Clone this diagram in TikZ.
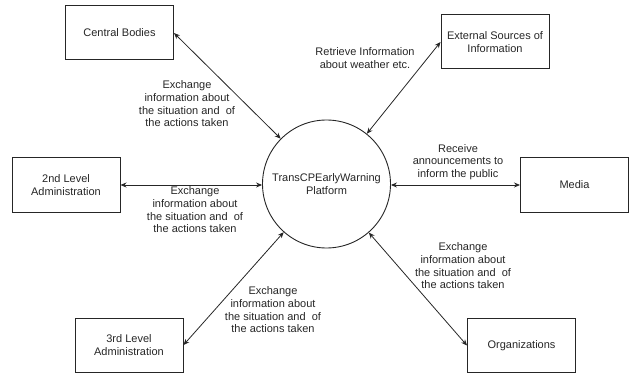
\documentclass[tikz,border=0pt]{standalone}
\usepackage{fontspec}
\setmainfont{Liberation Sans}
\usetikzlibrary{arrows.meta}

\begin{document}
\begin{tikzpicture}[
          % Environment Config
          x=1pt, y=-1pt,
          font=\fontsize{11}{12.7}\selectfont,
          color=black!85,
          Entity/.style={% Style for the outer boxes
            draw,
            line width=1pt,
            minimum width=108pt,
            minimum height=54pt,
            align=center,
            inner sep=2pt
          },
          Platform/.style={% Style for the central circle
            draw,
            circle,
            line width=0.9pt,
            minimum size=128pt,
            align=center,
            inner sep=0pt
          },
          Flow/.style={% Style for the two-way flows
            {Stealth[length=6pt,width=5pt]}-{Stealth[length=6pt,width=5pt]},
            line width=0.8pt
          },
          FlowText/.style={% Style for the flow labels
            align=center,
            inner sep=0pt
          }
        ]

        % Fix the canvas
        \useasboundingbox (0,0) rectangle (631,374);

        % Put the platform in position
        \node[Platform] (TCP) at (326.5,184) {TransCPEarlyWarning\\Platform};

        % Put the outer entities
        \node[Entity] (CB) at (119.5,33) {Central Bodies};
        \node[Entity] (ESI) at (495,42) {External Sources of\\Information};
        \node[Entity] (ADM2) at (66,185) {2nd Level\\Administration};
        \node[Entity] (MED) at (574.5,185) {Media};
        \node[Entity] (ADM3) at (129,345) {3rd Level\\Administration};
        \node[Entity] (ORG) at (521.5,345.5) {Organizations};

        % Draw the flows
        \draw[Flow] (CB.east) -- (TCP);
        \draw[Flow] (ESI.west) -- (TCP);
        \draw[Flow] (ADM2.east) -- (ADM2.east -| TCP.west);
        \draw[Flow] (MED.west -| TCP.east) -- (MED.west);
        \draw[Flow] (ADM3.east) -- (TCP);
        \draw[Flow] (ORG.west) -- (TCP);

        % Flow labels
        %===Central Bodies===
        \node[FlowText] (T1) at (187,104)
            {Exchange\\information about\\the situation and~ of\\the actions taken};
        %===External Sources===
        \node[FlowText] (T2) at (365,58)
            {Retrieve Information\\about weather etc.};
        %===2nd Level===
        \node[FlowText] (T3) at (195,210)
            {Exchange\\information about\\the situation and~ of\\the actions taken};
        %===Media===
        \node[FlowText] (T4) at (458,162)
            {Receive\\announcements to\\inform the public};
        %===3rd Level===
        \node[FlowText] (T5) at (273,310)
            {Exchange\\information about\\the situation and~ of\\the actions taken};
        %===Organizations===
        \node[FlowText] (T6) at (463,266)
            {Exchange\\information about\\the situation and~ of\\the actions taken};

\end{tikzpicture}
\end{document}
